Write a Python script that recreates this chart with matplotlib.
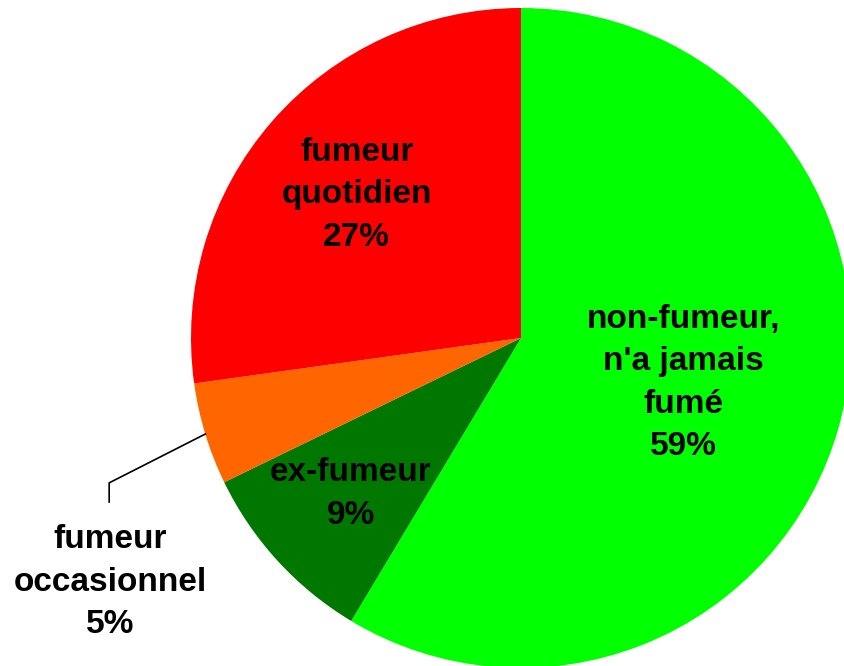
import matplotlib
matplotlib.use('Agg')
import matplotlib.pyplot as plt
import numpy as np

labels = ["non-fumeur,\nn'a jamais\nfumé", "ex-fumeur", "fumeur\noccasionnel", "fumeur\nquotidien"]
values = [58.6, 9.2, 5.0, 27.2]
colors = ['#00FF00', '#007800', '#FF6600', '#FF0000']

plt.rcParams['font.family'] = ['Liberation Sans', 'DejaVu Sans']

fig = plt.figure(figsize=(8.44, 6.66), dpi=100)
# pie centre at (521, 338) px, radius 330 px
ax = fig.add_axes([(521 - 330) / 844, (666 - 338 - 330) / 666, 660 / 844, 660 / 666])

wedges, _ = ax.pie(values, colors=colors, startangle=90, counterclock=False,
                   radius=1.0, wedgeprops=dict(linewidth=0))
ax.set_xlim(-1, 1)
ax.set_ylim(-1, 1)
ax.set_aspect('equal')
ax.axis('off')

# label distances from centre (fraction of radius)
label_dist = [0.51, 0.70, None, 0.66]

for w, lab, v, d in zip(wedges, labels, values, label_dist):
    mid = np.deg2rad((w.theta1 + w.theta2) / 2)
    txt = '%s\n%d%%' % (lab, round(v))
    if d is not None:
        ax.text(d * np.cos(mid), d * np.sin(mid), txt, ha='center', va='center',
                fontsize=24, fontweight='bold', linespacing=1.48)
    else:
        # outside label with elbow leader line
        x0, y0 = np.cos(mid), np.sin(mid)
        ex, ey = -1.248, -0.439
        ax.plot([x0, ex, ex], [y0, ey, ey - 0.058], color='black', lw=1.2,
                clip_on=False)
        ax.text(ex + 0.003, -0.74, txt, ha='center', va='center',
                fontsize=24, fontweight='bold', linespacing=1.48, clip_on=False)

fig.savefig('out.png', dpi=100)
